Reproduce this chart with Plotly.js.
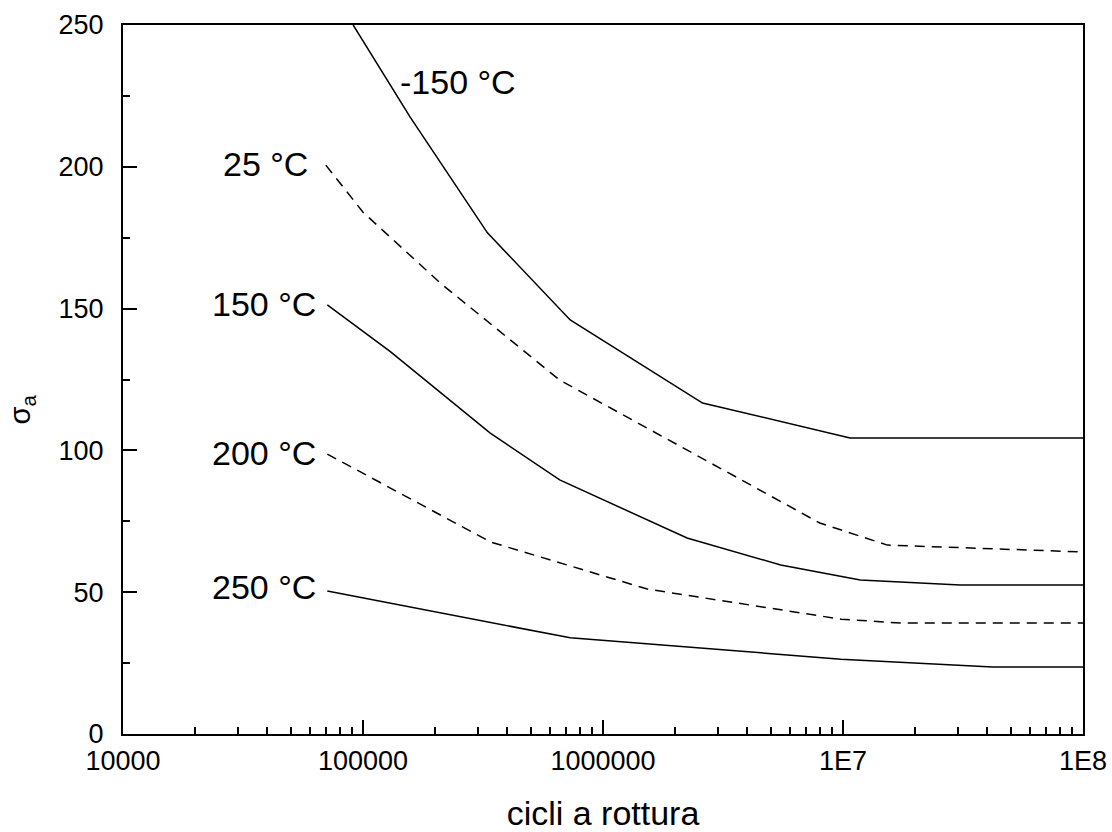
<!DOCTYPE html>
<html>
<head>
<meta charset="utf-8">
<script src="https://cdn.plot.ly/plotly-3.0.1.min.js"></script>
<style>
  html, body { margin: 0; padding: 0; background: #fff; }
  #chart { width: 1112px; height: 832px; }
</style>
</head>
<body>
<div id="chart"></div>
<script>
// ---- data ----
const seriesNames = ["-150 °C", "25 °C", "150 °C", "200 °C", "250 °C"];

const cyclesM150 = [9.1e4, 1.57e5, 3.3e5, 7.3e5, 2.6e6, 1.07e7, 1e8];
const sigmaM150  = [250, 217.6, 176.7, 146.0, 116.7, 104.4, 104.4];

const cycles25 = [7.0e4, 1.0e5, 2.1e5, 6.6e5, 8.0e6, 1.53e7, 1e8];
const sigma25  = [200.6, 184, 159, 124.8, 74.4, 66.6, 64.2];

const cycles150 = [7.1e4, 1.3e5, 3.39e5, 6.6e5, 2.24e6, 5.5e6, 1.18e7, 3.08e7, 1e8];
const sigma150  = [151.3, 134.8, 106.1, 89.6, 69.1, 59.6, 54.3, 52.5, 52.5];

const cycles200 = [7.1e4, 3.4e5, 1.53e6, 9.8e6, 1.74e7, 1e8];
const sigma200  = [98.7, 67.7, 51.1, 40.5, 39.1, 39.1];

const cycles250 = [7.1e4, 7.3e5, 9.8e6, 4.2e7, 1e8];
const sigma250  = [50.4, 33.9, 26.4, 23.6, 23.6];

const xTickVals = [1e4, 1e5, 1e6, 1e7, 1e8];
const xTickText = ["10000", "100000", "1000000", "1E7", "1E8"];
const yTickVals = [0, 50, 100, 150, 200, 250];

const xTitle = "cicli a rottura";
const yTitle = "σ<sub>a</sub>";

// ---- styling ----
const FONT = "Arial, 'Liberation Sans', Helvetica, sans-serif";
const solid = { color: "#000", width: 1.5 };
const dashed = { color: "#000", width: 1.5, dash: "10px,7px" };

const xs = [cyclesM150, cycles25, cycles150, cycles200, cycles250];
const ys = [sigmaM150, sigma25, sigma150, sigma200, sigma250];
const styles = [solid, dashed, solid, dashed, solid];

const traces = xs.map((x, i) => ({
  type: "scatter", mode: "lines", x: x, y: ys[i],
  name: seriesNames[i], line: styles[i], hoverinfo: "skip"
}));

// labels next to curve starts
const annotations = [];
for (let i = 1; i < xs.length; i++) {
  annotations.push({
    x: Math.log10(xs[i][0]), y: ys[i][0], xref: "x", yref: "y",
    text: seriesNames[i], showarrow: false,
    xanchor: "right", yanchor: "middle",
    xshift: i === 1 ? -16 : -9, yshift: i === 4 ? 4 : 1,
    font: { family: FONT, size: 34, color: "#000" }
  });
}
// -150 °C label, to the right of the steep curve
annotations.push({
  x: Math.log10(1.4e5), y: 230, xref: "x", yref: "y",
  text: seriesNames[0], showarrow: false,
  xanchor: "left", yanchor: "middle",
  font: { family: FONT, size: 34, color: "#000" }
});
// y-axis title
annotations.push({
  x: -0.105, y: 0.458, xref: "paper", yref: "paper",
  text: yTitle, showarrow: false, textangle: -90,
  xanchor: "center", yanchor: "middle",
  font: { family: FONT, size: 29, color: "#000" }
});

const layout = {
  width: 1112, height: 832,
  margin: { l: 123, r: 29, t: 25, b: 98, pad: 0 },
  paper_bgcolor: "#fff", plot_bgcolor: "#fff",
  showlegend: false,
  font: { family: FONT, color: "#000" },
  xaxis: {
    type: "log", range: [4, 8],
    tickmode: "array", tickvals: xTickVals, ticktext: xTickText,
    ticks: "inside", ticklen: 14, tickwidth: 2, tickcolor: "#000",
    minor: { ticks: "inside", ticklen: 7, tickwidth: 2, tickcolor: "#000", dtick: "D1", showgrid: false },
    showline: true, linewidth: 2, linecolor: "#000", mirror: true,
    showgrid: false, zeroline: false,
    tickfont: { family: FONT, size: 27, color: "#000" },
    ticklabelstandoff: 2,
    title: { text: xTitle, font: { family: FONT, size: 34, color: "#000" }, standoff: 26 }
  },
  yaxis: {
    range: [0, 250],
    tickmode: "array", tickvals: yTickVals,
    ticks: "inside", ticklen: 14, tickwidth: 2, tickcolor: "#000",
    minor: { ticks: "inside", ticklen: 7, tickwidth: 2, tickcolor: "#000", dtick: 25, showgrid: false },
    showline: true, linewidth: 2, linecolor: "#000", mirror: true,
    showgrid: false, zeroline: false,
    tickfont: { family: FONT, size: 27, color: "#000" },
    ticklabelstandoff: 12
  },
  annotations: annotations
};

Plotly.newPlot("chart", traces, layout, { staticPlot: true, displayModeBar: false });
</script>
</body>
</html>
